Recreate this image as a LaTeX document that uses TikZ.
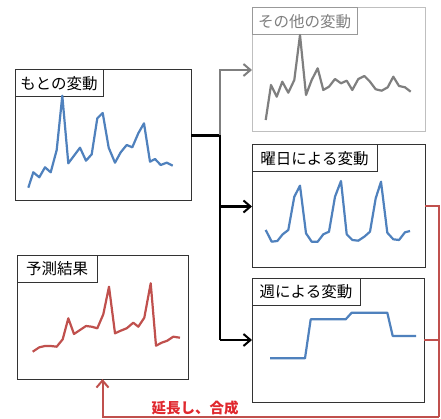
\documentclass[tikz,border=0pt]{standalone}
\usepackage{fontspec}
\newfontfamily\jp{Noto Sans CJK JP}
\usetikzlibrary{arrows.meta}
\definecolor{xblue}{HTML}{4F81BD}
\definecolor{xred}{HTML}{C0504D}
\definecolor{xgray}{HTML}{7F7F7F}
\definecolor{lgray}{HTML}{BFBFBF}
\definecolor{txtred}{HTML}{E0282E}
\begin{document}
\begin{tikzpicture}[x=1pt,y=-1pt,
  box/.style={draw=black!80, line width=1pt, fill=white, anchor=north west, inner sep=0pt, outer sep=0pt},
  lbl/.style={draw=black!80, line width=1pt, fill=white, anchor=north west, inner sep=0pt, outer sep=0pt, font=\jp\fontsize{15.5}{17}\selectfont, minimum height=27pt},
  bline/.style={xblue, line width=2.2pt, line join=round},
  rline/.style={xred, line width=2.2pt, line join=round},
  gline/.style={xgray, line width=2.2pt, line join=round},
  conn/.style={black, line width=2.4pt},
  arr/.style={-{Straight Barb[length=7pt,width=12pt,line width=2pt]}},
  redconn/.style={xred, line width=2pt}]
\useasboundingbox (0,0) rectangle (441,419);
% boxes
\node[box, minimum width=176pt, minimum height=131pt] (orig) at (15,70) {};
\node[lbl, minimum width=88pt] (origl) at (15,70) {もとの変動};
\node[box, draw=lgray, minimum width=173pt, minimum height=124pt] (other) at (252,8) {};
\node[lbl, draw=black!40, text=xgray, minimum width=105pt] (otherl) at (252,8) {その他の変動};
\node[box, minimum width=173pt, minimum height=123pt] (youbi) at (252,145) {};
\node[lbl, minimum width=125pt] (youbil) at (252,145) {曜日による変動};
\node[box, minimum width=172pt, minimum height=124pt] (shuu) at (252,278) {};
\node[lbl, minimum width=108pt] (shuul) at (252,278) {週による変動};
\node[box, minimum width=171pt, minimum height=123pt] (pred) at (17,256) {};
\node[lbl, minimum width=80pt, minimum height=26pt] (predl) at (17,256) {予測結果};
% charts
\draw[bline] plot coordinates {(28.3,187.7) (33.3,172.3) (39.3,177.3) (45,167.3) (50.7,172.3) (56.7,150) (62.3,95.7) (68.3,163.3) (74,155.7) (80,147.7) (86,160.7) (91.7,154.3) (97.3,118.3) (102.7,113) (108.7,147.7) (115,162.7) (120.7,152.3) (126.7,145) (132.3,147.3) (138.3,133.3) (144,123.3) (150,161.7) (155,159) (160.7,165) (166.7,162.7) (172.7,165.7)};
\draw[gline] plot coordinates {(265.7,120) (271,85) (276.7,96.7) (282.3,81.7) (288.3,92.7) (294.3,80) (300,35) (306,95) (311.7,80) (317.7,68.3) (323.3,90) (329,86.7) (335,79) (341,83.3) (346.7,80.7) (352.3,90) (358.3,79) (364.3,76) (370,81.7) (375.7,89.3) (381.7,90.7) (387.7,87.3) (393.3,76.7) (399,86) (405,87.3) (410.7,91.7)};
\draw[bline] plot coordinates {(265.7,230) (271.7,241.7) (277.3,241) (282.7,234.3) (288.3,230) (294.3,196.7) (300,185.7) (306,233.3) (311.7,241.7) (317.7,241.7) (323.3,234.3) (329,231.7) (335,196.7) (341,181) (346.7,234.3) (352.3,240) (358.3,240.7) (364.3,236.7) (370,231.7) (375.7,198.3) (381,181.7) (387.3,232.7) (393.3,239.3) (399,240) (405,232.3) (410,231)};
\draw[bline] plot coordinates {(270,358.3) (305,358.3) (310.7,319.3) (345.7,319.3) (351.7,312.7) (387.3,312.7) (392.7,336) (416,336)};
\draw[rline] plot coordinates {(32.7,351.7) (39.3,347.3) (45,346) (50.7,346) (56.7,346.7) (62.7,339.3) (68.3,318.3) (74,334) (80,330) (86,326) (91.7,326.7) (97.3,328.3) (103.3,314.3) (109,286.7) (115,333.3) (120.7,330.7) (126.7,328.3) (133.3,322.7) (138.3,326.7) (144.3,317.7) (150.7,283.3) (156,345.7) (161.7,342.7) (167.3,340.7) (173.3,336.7) (180,337.7)};
% connectors
\coordinate (j) at (220,135.5);
\draw[conn] (orig.east) -- (j);
\draw[conn] (j) -- (j |- shuu.west);
\draw[conn, arr] (j |- youbi.west) -- (youbi.west);
\draw[conn, arr] (j |- shuu.west) -- (shuu.west);
\draw[gline, arr, line join=miter] (j) |- (other.west);
\coordinate (r) at (439,417);
\draw[redconn] (youbi.east) -| (r);
\draw[redconn] (shuu.east) -- (shuu.east -| r);
\draw[redconn, arr, line join=miter] (r) -| (pred.south);
\node[font=\jp\bfseries\fontsize{14.5}{16}\selectfont, text=txtred, inner sep=0pt] (lab) at (195,408) {延長し、合成};
\end{tikzpicture}
\end{document}
